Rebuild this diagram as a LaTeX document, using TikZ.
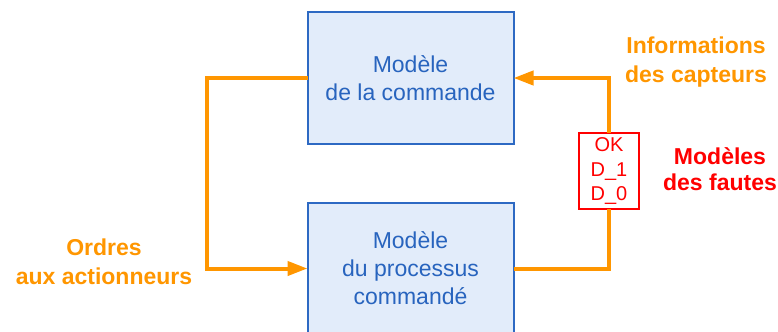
\documentclass[tikz,border=0pt]{standalone}
\usepackage{fontspec}
\setmainfont{Liberation Sans}
\usetikzlibrary{arrows.meta}
\definecolor{flow}{RGB}{255,150,0}
\definecolor{boxfill}{RGB}{226,236,250}
\definecolor{boxline}{RGB}{45,105,195}
\definecolor{boxtext}{RGB}{40,100,190}
\definecolor{fault}{RGB}{255,0,0}
\tikzset{
  model/.style={draw=boxline, line width=2bp, fill=boxfill, text=boxtext,
    minimum width=206bp, minimum height=132bp, align=center, inner sep=0pt, outer sep=0pt,
    font=\fontsize{23bp}{28bp}\selectfont},
  faultbox/.style={draw=fault, line width=2bp, fill=white, text=fault,
    minimum width=60bp, minimum height=76bp, align=center, inner sep=0pt, outer sep=0pt,
    font=\fontsize{20bp}{24.5bp}\selectfont},
  signal/.style={draw=flow, line width=4bp},
  tip/.style={-{Triangle[length=20bp,width=14bp]}},
  flowlabel/.style={text=flow, align=center, font=\bfseries\fontsize{23bp}{28.5bp}\selectfont},
  faultlabel/.style={text=fault, align=center, font=\bfseries\fontsize{23bp}{26bp}\selectfont}
}
\begin{document}
\begin{tikzpicture}[x=1bp,y=-1bp]
  \useasboundingbox (0,0) rectangle (778,331);
  \clip (0,0) rectangle (778,331);

  % the two models
  \node[model] (cmd) at (410.5,78) {Modèle\\de la commande};
  \node[model] (proc) at (410.5,268.5) {Modèle\\du processus\\commandé};

  % fault models on the sensor link
  \node[faultbox] (faults) at (609,171) {OK\\D\_1\\D\_0};

  % actuator orders: command -> process
  \draw[signal,tip] (cmd.west) -- ++(-101,0) |- (proc.west);

  % sensor information: process -> command, through the fault models
  \draw[signal] (proc.east) -| (faults.south);
  \draw[signal,tip] (faults.north) |- (cmd.east);

  % labels
  \node[flowlabel] (orders) at (104,262) {Ordres\\aux actionneurs};
  \node[flowlabel] (infos) at (696,62) {Informations\\des capteurs};
  \node[faultlabel] (faultname) at (720,169) {Modèles\\des fautes};
\end{tikzpicture}
\end{document}
